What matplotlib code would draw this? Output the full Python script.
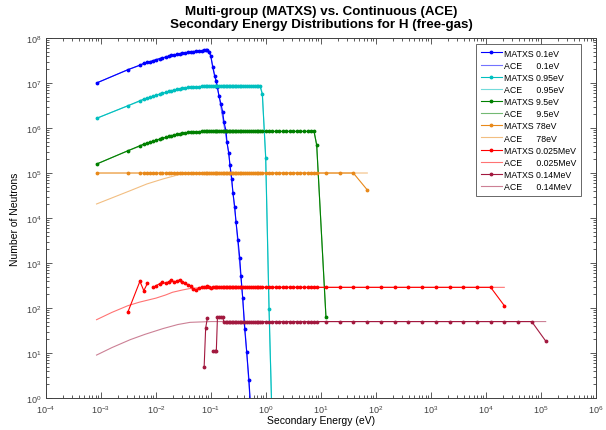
# Multi-group (MATXS) vs continuous (ACE) secondary energy distributions for H (free-gas)
import numpy as np
import matplotlib
matplotlib.use('Agg')
import matplotlib.pyplot as plt

plt.rcParams['font.family'] = ['Liberation Sans', 'DejaVu Sans']

nan = np.nan

# MATXS group energies (eV), shared by all MATXS curves
groups = [8.3e-4, 3.1e-3, 5.1e-3, 6.0e-3, 7.0e-3, 7.9e-3, 9.0e-3, 1.0e-2, 1.18e-2, 1.3e-2,
          1.5e-2, 1.7e-2, 1.9e-2, 2.1e-2, 2.4e-2, 2.7e-2, 3.0e-2, 3.4e-2, 3.8e-2, 4.3e-2,
          4.8e-2, 5.4e-2, 6.1e-2, 6.8e-2, 7.5e-2, 8.0e-2, 8.6e-2, 9.3e-2, 9.9e-2, 0.107,
          0.117, 0.125, 0.131, 0.140, 0.152, 0.163, 0.172, 0.188, 0.195, 0.210,
          0.221, 0.238, 0.251, 0.270, 0.285, 0.310, 0.333, 0.351, 0.377, 0.410,
          0.446, 0.49, 0.53, 0.58, 0.63, 0.68, 0.73, 0.78, 0.857, 0.986,
          1.135, 1.29, 1.5, 1.75, 2.0, 2.3, 2.7, 3.1, 3.6, 4.2,
          4.9, 5.7, 6.5, 7.46, 8.35, 12.3, 22.1, 38.7, 69.5, 123,
          221, 387, 695, 1233, 2213, 3868, 6775, 12170, 21500, 38200,
          67700, 121600]

# MATXS values (neutrons), one per group from the first group on
matxs_0p1 = [1.0e7, 1.98e7, 2.5e7, 2.75e7, 2.9e7, 3.0e7, 3.16e7, 3.3e7, 3.5e7, 3.6e7,
             3.8e7, 3.98e7, 4.1e7, 4.2e7, 4.35e7, 4.47e7, 4.6e7, 4.7e7, 4.85e7, 4.95e7,
             5.0e7, 5.1e7, 5.2e7, 5.25e7, 5.3e7, 5.35e7, 5.4e7, 5.0e7, 4.0e7, 2.3e7,
             1.4e7, 1.1e7, 8.0e6, 5.1e6, 3.4e6, 2.3e6, 1.36e6, 8.6e5, 4.9e5, 2.8e5,
             1.5e5, 7.4e4, 3.6e4, 1.75e4, 8.2e3, 3.2e3, 1.3e3, 510, 167, 34,
             10.5, 2.5, 0.5]

matxs_0p95 = [1.64e6, 3.13e6, 4.05e6, 4.4e6, 4.65e6, 4.85e6, 5.1e6, 5.35e6, 5.7e6, 5.9e6,
              6.2e6, 6.5e6, 6.75e6, 6.95e6, 7.2e6, 7.4e6, 7.6e6, 7.8e6, 7.95e6, 8.1e6,
              8.2e6, 8.3e6, 8.35e6, 8.4e6, 8.4e6, 8.4e6, 8.4e6, 8.4e6, 8.4e6, 8.4e6,
              8.4e6, 8.4e6, 8.4e6, 8.4e6, 8.4e6, 8.4e6, 8.4e6, 8.4e6, 8.4e6, 8.4e6,
              8.4e6, 8.4e6, 8.4e6, 8.4e6, 8.4e6, 8.4e6, 8.4e6, 8.4e6, 8.4e6, 8.4e6,
              8.4e6, 8.4e6, 8.4e6, 8.4e6, 8.4e6, 8.4e6, 8.4e6, 8.4e6, 5.7e6, 2.2e5,
              95, 0.3]

matxs_9p5 = [1.58e5, 3.13e5, 4.05e5, 4.4e5, 4.65e5, 4.85e5, 5.1e5, 5.35e5, 5.7e5, 5.9e5,
             6.2e5, 6.5e5, 6.75e5, 6.95e5, 7.2e5, 7.4e5, 7.6e5, 7.8e5, 7.95e5, 8.1e5,
             8.2e5, 8.3e5, 8.35e5, 8.4e5, 8.4e5, 8.4e5, 8.4e5, 8.4e5, 8.4e5, 8.4e5,
             8.4e5, 8.4e5, 8.4e5, 8.4e5, 8.4e5, 8.4e5, 8.4e5, 8.4e5, 8.4e5, 8.4e5,
             8.4e5, 8.4e5, 8.4e5, 8.4e5, 8.4e5, 8.4e5, 8.4e5, 8.4e5, 8.4e5, 8.4e5,
             8.4e5, 8.4e5, 8.4e5, 8.4e5, 8.4e5, 8.4e5, 8.4e5, 8.4e5, 8.4e5, 8.4e5,
             8.4e5, 8.4e5, 8.4e5, 8.4e5, 8.4e5, 8.4e5, 8.4e5, 8.4e5, 8.4e5, 8.4e5,
             8.4e5, 8.4e5, 8.4e5, 8.4e5, 4.2e5, 64]

matxs_78 = [1.0e5, 1.0e5, 1.0e5, 1.0e5, 1.0e5, 1.0e5, 1.0e5, 1.0e5, 1.0e5, 1.0e5,
            1.0e5, 1.0e5, 1.0e5, 1.0e5, 1.0e5, 1.0e5, 1.0e5, 1.0e5, 1.0e5, 1.0e5,
            1.0e5, 1.0e5, 1.0e5, 1.0e5, 1.0e5, 1.0e5, 1.0e5, 1.0e5, 1.0e5, 1.0e5,
            1.0e5, 1.0e5, 1.0e5, 1.0e5, 1.0e5, 1.0e5, 1.0e5, 1.0e5, 1.0e5, 1.0e5,
            1.0e5, 1.0e5, 1.0e5, 1.0e5, 1.0e5, 1.0e5, 1.0e5, 1.0e5, 1.0e5, 1.0e5,
            1.0e5, 1.0e5, 1.0e5, 1.0e5, 1.0e5, 1.0e5, 1.0e5, 1.0e5, 1.0e5, 1.0e5,
            1.0e5, 1.0e5, 1.0e5, 1.0e5, 1.0e5, 1.0e5, 1.0e5, 1.0e5, 1.0e5, 1.0e5,
            1.0e5, 1.0e5, 1.0e5, 1.0e5, 1.0e5, 1.0e5, 1.0e5, 1.0e5, 4.2e4]

matxs_25k = [nan, 83, 392, 243, 354, nan, 288, 313, 350, 372,
             354, 385, 419, 385, 392, 426, 372, 354, 330, 303,
             270, 255, 280, 293, 293, 300, 303, 290, 278, 288,
             288, 288, 288, 288, 288, 288, 288, 288, 288, 288,
             288, 288, 288, 288, 288, 288, 288, 288, 288, 288,
             288, 288, 288, 288, 288, 288, 288, 288, 288, 288,
             288, 288, 288, 288, 288, 288, 288, 288, 288, 288,
             288, 288, 288, 288, 288, 288, 288, 288, 288, 288,
             288, 288, 288, 288, 288, 288, 288, 288, 113]

matxs_140k = [nan, nan, nan, nan, nan, nan, nan, nan, nan, nan,
              nan, nan, nan, nan, nan, nan, nan, nan, nan, nan,
              nan, nan, nan, nan, 4.8, 36, 60, nan, nan, 11.3,
              11.3, 11.3, 62, 62, 62, 62, 48, 48, 48, 48,
              48, 49, 50, 50, 50, 50, 50, 50, 50, 50,
              50, 50, 50, 50, 50, 50, 50, 50, 50, 50,
              50, 50, 50, 50, 50, 50, 50, 50, 50, 50,
              50, 50, 50, 50, 50, 50, 50, 50, 50, 50,
              50, 50, 50, 50, 50, 50, 50, 50, 50, 50,
              50, 18.5]

# ACE continuous curves
ace_e_0p1 = [8.3e-4, 3.1e-3, 1.0e-2, 3.0e-2, 6.0e-2, 8.6e-2, 9.9e-2, 0.14, 0.21, 0.285, 0.377, 0.446, 0.53]
ace_0p1 = [1.0e7, 1.98e7, 3.3e7, 4.6e7, 5.2e7, 5.4e7, 4.0e7, 5.1e6, 2.8e5, 8.2e3, 167, 10.5, 0.5]
ace_e_0p95 = [8.3e-4, 3.1e-3, 1.0e-2, 3.0e-2, 6.0e-2, 0.1, 0.8, 0.86, 0.99, 1.14, 1.29]
ace_0p95 = [1.64e6, 3.13e6, 5.35e6, 7.6e6, 8.35e6, 8.4e6, 8.4e6, 5.7e6, 2.2e5, 95, 0.3]
ace_e_9p5 = [8.3e-4, 3.1e-3, 1.0e-2, 3.0e-2, 6.0e-2, 0.1, 7.5, 8.35, 12.3]
ace_9p5 = [1.58e5, 3.13e5, 5.35e5, 7.6e5, 8.35e5, 8.4e5, 8.4e5, 4.2e5, 64]
ace_e_78 = [8.3e-4, 3.4e-3, 6.8e-3, 1.35e-2, 2.7e-2, 4.0e-2, 6.0e-2, 69.5]
ace_78 = [2.05e4, 4.05e4, 5.7e4, 7.4e4, 9.3e4, 9.9e4, 1.0e5, 1.0e5]
ace_e_25k = [8.3e-4, 1.58e-3, 3.1e-3, 5.0e-3, 1.0e-2, 1.5e-2, 2.0e-2, 3.0e-2, 4.0e-2, 6.0e-2, 8.0e-2, 0.2, 21500]
ace_25k = [55, 80, 113, 135, 166, 195, 224, 251, 269, 282, 285, 288, 288]
ace_e_140k = [8.3e-4, 1.58e-3, 3.4e-3, 6.3e-3, 1.35e-2, 2.5e-2, 4.15e-2, 6.3e-2, 0.1, 121600]
ace_140k = [9.0, 13.2, 19.8, 26, 35, 43, 48, 49, 50, 50]

labels = ['0.1eV', '0.95eV', '9.5eV', '78eV', '0.025MeV', '0.14MeV']
colors = ['#0000FF', '#00BFBF', '#008000', '#E8891A', '#FF0000', '#A2193F']
matxs = [matxs_0p1, matxs_0p95, matxs_9p5, matxs_78, matxs_25k, matxs_140k]
ace = [(ace_e_0p1, ace_0p1), (ace_e_0p95, ace_0p95), (ace_e_9p5, ace_9p5),
       (ace_e_78, ace_78), (ace_e_25k, ace_25k), (ace_e_140k, ace_140k)]

fig = plt.figure(figsize=(6.06, 4.31), dpi=100)
ax = fig.add_axes([0.0759, 0.0742, 0.9076, 0.8353])

for lab, c, m, (ae, av) in zip(labels, colors, matxs, ace):
    ax.plot(groups[:len(m)], m, '.-', color=c, lw=0.8, ms=3.5,
            label='MATXS ' + lab)
    ax.plot(ae, av, '-', color=c, lw=0.8, alpha=0.55,
            label='ACE      ' + lab)

ax.set_xscale('log')
ax.set_yscale('log')
ax.set_xlim(1e-4, 1e6)
ax.set_ylim(1e0, 1e8)
ax.set_xticks([10.0 ** k for k in range(-4, 7)])
ax.set_yticks([10.0 ** k for k in range(0, 9)])
ax.tick_params(which='both', direction='in', top=True, right=True,
               labelsize=6.5, colors='#404040', width=0.6)
ax.tick_params(which='major', length=4)
ax.tick_params(which='minor', length=2)
for s in ax.spines.values():
    s.set_color('#404040')
    s.set_linewidth(0.7)

ax.set_xlabel('Secondary Energy (eV)', fontsize=7.5, labelpad=0)
ax.set_ylabel('Number of Neutrons', fontsize=7.5, labelpad=4)
ax.set_title('Multi-group (MATXS) vs. Continuous (ACE)\nSecondary Energy Distributions for H (free-gas)',
             fontsize=9.6, fontweight='bold', pad=8, linespacing=1.1)

leg = ax.legend(loc='upper right', bbox_to_anchor=(0.973, 0.983), borderaxespad=0,
                fontsize=6.3, frameon=True, fancybox=False, edgecolor='#404040',
                handlelength=2.4, labelspacing=0.36, borderpad=0.5, handletextpad=0.3)
leg.get_frame().set_linewidth(0.7)

fig.savefig('out.png', dpi=100)
